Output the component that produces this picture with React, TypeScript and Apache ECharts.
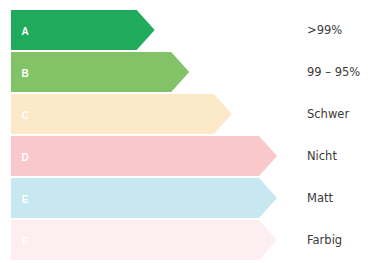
import React, { useEffect, useRef } from "react";
import * as echarts from "echarts";

const letters = ["A", "B", "C", "D", "E", "F"];
const labels = [">99%", "99 – 95%", "Schwer", "Nicht", "Matt", "Farbig"];
const values = [54, 67, 83, 100, 100, 100];
const colors = ["#1fab5b", "#82c368", "#fbe9c8", "#f8c8ca", "#c7e8f0", "#fdeef2"];

export default function App() {
  const ref = useRef<HTMLDivElement>(null);
  useEffect(() => {
    if (!ref.current) return;
    const chart = echarts.init(ref.current, undefined, { renderer: "svg" });
    chart.setOption({
      animation: false,
      backgroundColor: "#ffffff",
      grid: { left: 11, right: 94, top: 9, bottom: 2 },
      xAxis: { type: "value", min: 0, max: 100, show: false },
      yAxis: {
        type: "category",
        data: labels,
        inverse: true,
        position: "right",
        axisLine: { show: false },
        axisTick: { show: false },
        splitLine: { show: false },
        axisLabel: {
          margin: 30,
          color: "#3a3a3a",
          fontSize: 11.5,
          fontFamily: "DejaVu Sans, sans-serif",
          padding: [3, 0, 0, 0],
        },
      },
      series: [
        {
          type: "custom",
          data: values.map((v, i) => [v, i]),
          encode: { x: 0, y: 1 },
          renderItem: (params: any, api: any) => {
            const idx = api.value(1);
            const start = api.coord([0, idx]);
            const end = api.coord([api.value(0), idx]);
            const h = api.size([0, 1])[1] * 0.955;
            const tip = 18;
            const y = start[1];
            const x0 = start[0];
            const x1 = end[0];
            return {
              type: "group",
              children: [
                {
                  type: "polygon",
                  shape: {
                    points: [
                      [x0, y - h / 2],
                      [x1 - tip, y - h / 2],
                      [x1, y],
                      [x1 - tip, y + h / 2],
                      [x0, y + h / 2],
                    ],
                  },
                  style: { fill: colors[idx] },
                },
                {
                  type: "text",
                  x: x0 + 14,
                  y: y + 1,
                  style: {
                    text: letters[idx],
                    fill: "#ffffff",
                    fontSize: 10,
                    fontWeight: "bold",
                    fontFamily: "Liberation Sans, Arial, sans-serif",
                    align: "center",
                    verticalAlign: "middle",
                  },
                },
              ],
            };
          },
        },
      ],
    });
    return () => chart.dispose();
  }, []);
  return (
    <div
      ref={ref}
      style={{ position: "fixed", left: 0, top: 0, width: 371, height: 263 }}
    />
  );
}
